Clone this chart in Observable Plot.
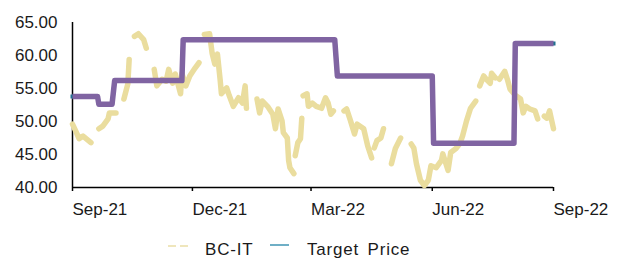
<!DOCTYPE html>
<html><head><meta charset="utf-8">
<script src="https://cdn.jsdelivr.net/npm/d3@7"></script>
<script src="https://cdn.jsdelivr.net/npm/@observablehq/plot@0.6"></script>
<style>
body{margin:0;background:#fff;font-family:"Liberation Sans",Arial,sans-serif;}
#wrap{position:relative;width:617px;height:259px;overflow:hidden;background:#fff}
.leg{position:absolute;font-size:17px;line-height:17px;color:#1a1a1a;letter-spacing:0.8px;white-space:nowrap}
.sw{position:absolute;height:2px}
</style></head><body>
<div id="wrap"><div id="chart"></div>
<div class="sw" style="left:168px;top:245px;width:21px;background:repeating-linear-gradient(90deg,#EFE6BC 0 8px,transparent 8px 12px)"></div>
<div class="leg" style="left:205px;top:241px">BC-IT</div>
<div class="sw" style="left:270px;top:244px;width:19px;background:#6FAFC6"></div>
<div class="leg" style="left:307px;top:241px;word-spacing:3px">Target Price</div>
</div>
<script>
// BC-IT share price (null = gap in the drawn line)
const priceDates = [
"2021-09-01","2021-09-04","2021-09-06","2021-09-09","2021-09-15","2021-09-18",
"2021-09-21","2021-09-24","2021-09-28","2021-09-29","2021-10-04","2021-10-07",
"2021-10-10","2021-10-13","2021-10-14","2021-10-16",
"2021-10-18","2021-10-21","2021-10-25","2021-10-27","2021-10-30",
"2021-11-02","2021-11-04","2021-11-08","2021-11-11","2021-11-13","2021-11-16","2021-11-18","2021-11-22","2021-11-23","2021-11-26","2021-11-29","2021-12-03","2021-12-06","2021-12-08",
"2021-12-10","2021-12-14","2021-12-16","2021-12-18","2021-12-20","2021-12-22","2021-12-23","2021-12-27","2021-12-29","2022-01-01","2022-01-05","2022-01-08","2022-01-10","2022-01-11","2022-01-15",
"2022-01-19","2022-01-21","2022-01-23","2022-01-27","2022-01-31","2022-02-02","2022-02-04","2022-02-07","2022-02-08","2022-02-11","2022-02-12","2022-02-13","2022-02-16","2022-02-16",
"2022-02-17","2022-02-19","2022-02-21","2022-02-22","2022-02-22",
"2022-02-23","2022-02-26","2022-02-27","2022-03-02","2022-03-05","2022-03-09","2022-03-12","2022-03-14","2022-03-16","2022-03-18","2022-03-22",
"2022-03-26","2022-03-28","2022-03-31","2022-04-03","2022-04-05","2022-04-10","2022-04-13","2022-04-16","2022-04-17",
"2022-04-18","2022-04-20","2022-04-23","2022-04-25","2022-04-28",
"2022-05-01","2022-05-04","2022-05-08","2022-05-12",
"2022-05-16","2022-05-18","2022-05-20","2022-05-23","2022-05-26","2022-05-29","2022-05-31","2022-06-04","2022-06-08","2022-06-09","2022-06-13","2022-06-15","2022-06-19","2022-06-22","2022-06-24","2022-06-27","2022-06-30","2022-07-04","2022-07-05",
"2022-07-07","2022-07-10","2022-07-12","2022-07-15","2022-07-16","2022-07-19","2022-07-20",
"2022-07-22","2022-07-26","2022-07-28","2022-07-30","2022-08-03","2022-08-07","2022-08-09","2022-08-11","2022-08-14","2022-08-18","2022-08-20","2022-08-22",
"2022-08-25","2022-08-27","2022-08-29","2022-09-01"
];
const priceValues = [
49.6,48.3,47.4,47.8,46.8,null,
48.9,49.3,50.4,51.3,51.3,null,
53.4,55.7,59.4,null,
62.9,63.3,62.4,61.1,null,
57.9,55.4,56.4,56.1,57.9,55.8,57.2,54.2,57.3,55.4,56.9,58.1,58.9,null,
63.2,63.3,60.3,58.7,60.2,56.4,54.2,55.1,53.9,52.3,53.6,52.8,55.4,52.0,null,
53.4,51.3,53.1,52.3,51.1,48.9,51.9,50.1,48.3,47.5,44.1,43.0,42.1,null,
44.8,46.8,47.4,50.5,null,
53.9,54.2,52.3,52.8,52.3,52.0,53.6,52.8,51.1,51.6,null,
51.6,51.9,50.1,48.1,49.6,48.9,46.3,44.5,null,
46.0,47.1,47.5,48.9,null,
43.6,45.9,47.5,null,
46.6,46.0,43.6,41.1,40.3,41.1,43.3,43.0,44.1,45.1,42.6,45.3,45.9,46.7,47.8,50.1,52.0,53.1,null,
55.4,56.9,56.4,55.8,57.3,56.6,null,
56.4,57.6,56.4,54.9,54.0,53.4,51.3,52.3,51.9,51.6,50.4,null,
50.8,50.5,51.6,48.9
];
// Target price (stepped)
const targetDates = ["2021-09-01","2021-09-20","2021-09-21","2021-10-01","2021-10-03","2021-11-23","2021-11-24","2022-03-19","2022-03-21","2022-06-01","2022-06-02","2022-08-02","2022-08-03","2022-09-01"];
const targetValues = [53.8,53.8,52.6,52.6,56.2,56.2,62.4,62.4,56.9,56.9,46.7,46.7,61.8,61.8];

const yTicks = [40,45,50,55,60,65];
const xTickDates = ["2021-09-01","2021-12-01","2022-03-01","2022-06-01","2022-09-01"];
const xTickLabels = ["Sep-21","Dec-21","Mar-22","Jun-22","Sep-22"];

const price = priceDates.map((d,i)=>({date:new Date(d), value:priceValues[i]}));
const target = targetDates.map((d,i)=>({date:new Date(d), value:targetValues[i]}));
const x0 = new Date(xTickDates[0]), x1 = new Date(xTickDates[xTickDates.length-1]);

const chart = Plot.plot({
  width:617, height:236,
  marginLeft:72, marginRight:64, marginTop:22, marginBottom:49,
  x:{type:"utc", domain:[x0,x1]},
  y:{domain:[40,65]},
  style:{fontFamily:"'Liberation Sans', Arial, sans-serif", fontSize:"17px", color:"#1a1a1a", background:"white", overflow:"visible"},
  marks:[
    Plot.axisY({ticks:yTicks, tickFormat:d=>d.toFixed(2), tickSize:0, tickPadding:15, label:null}),
    Plot.axisX({ticks:xTickDates.map(d=>new Date(d)), tickFormat:d=>xTickLabels[xTickDates.indexOf(d.toISOString().slice(0,10))], tickSize:4, tickPadding:11, textAnchor:"start", label:null, stroke:"#000", strokeWidth:1.5}),
    Plot.ruleX([x0], {stroke:"#000", strokeWidth:1.5}),
    Plot.ruleY([40], {stroke:"#000", strokeWidth:1.5}),
    Plot.line(price, {x:"date", y:"value", stroke:"#EADD9E", strokeWidth:5.5, strokeLinecap:"round", strokeLinejoin:"round"}),
    Plot.line(target, {x:"date", y:"value", stroke:"#1F7090", strokeWidth:4, strokeLinecap:"square"}),
    Plot.line(target, {x:"date", y:"value", stroke:"#8064A2", strokeWidth:5.5, strokeLinecap:"butt", strokeLinejoin:"round"})
  ]
});
document.getElementById("chart").appendChild(chart);
</script>
</body></html>
